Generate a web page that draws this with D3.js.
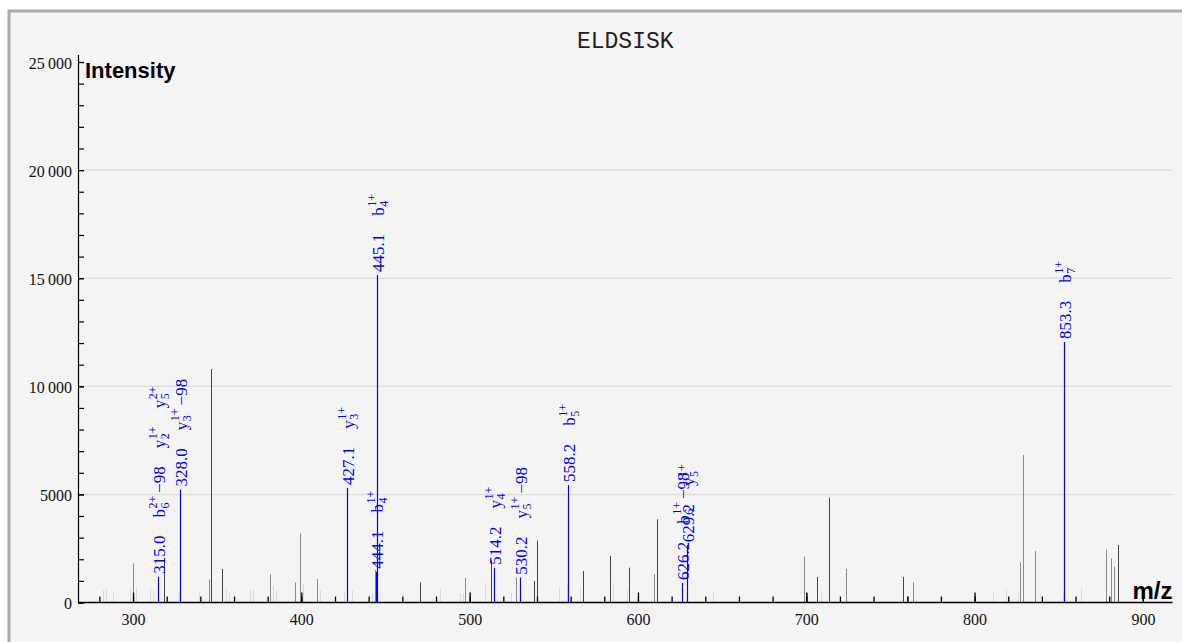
<!DOCTYPE html>
<html>
<head>
<meta charset="utf-8">
<script src="https://cdn.jsdelivr.net/npm/d3@7"></script>
<style>
  html, body { margin: 0; padding: 0; background: #fff; }
  svg { display: block; }
</style>
</head>
<body>
<div id="spectrum"></div>
<script>
// Peptide shown in the title
var title = "ELDSISK";

// Unannotated peaks, grouped by shade: [m/z, intensity]
var darkPeaks = [
  [318.2, 2060], [346.2, 10800], [353.1, 1550], [470.3, 930], [512.5, 1930], [538.4, 990],
  [540.0, 2860], [567.3, 1460], [583.4, 2150], [594.5, 1610], [611.5, 3850], [706.6, 1180],
  [713.7, 4850], [757.6, 1180], [885.0, 2660]
];
var midPeaks = [
  [300.0, 1810], [345.0, 1070], [381.2, 1300], [396.0, 930], [399.2, 3200], [409.1, 1090],
  [443.9, 1500], [497.4, 1130], [527.3, 1160], [609.3, 1320], [698.6, 2120], [700.2, 430],
  [723.6, 1550], [760.2, 300], [763.6, 930], [826.8, 1860], [828.7, 6820], [835.8, 2380],
  [877.8, 2460], [880.8, 2040], [882.8, 1660]
];
var lightPeaks = [
  [282.2, 550], [284.0, 620], [288.0, 430], [298.0, 620], [302.0, 680], [310.0, 650],
  [311.9, 620], [327.3, 430], [339.0, 430], [355.0, 620], [357.0, 430], [369.3, 550],
  [371.3, 620], [383.2, 800], [385.1, 550], [401.2, 860], [411.0, 550], [425.2, 500],
  [430.3, 550], [442.2, 430], [482.2, 620], [494.3, 430], [496.2, 430], [500.0, 550],
  [509.3, 900], [524.4, 430], [553.3, 680], [557.6, 860], [565.5, 650], [585.3, 900],
  [593.3, 620], [644.4, 500], [708.5, 550], [810.7, 430], [818.6, 620], [825.6, 430],
  [852.7, 430], [863.2, 680]
];

// Annotated (matched) peaks
var annMz = [315.0, 328.0, 427.1, 444.1, 445.1, 514.2, 530.2, 558.2, 626.2, 629.2, 853.3];
var annIntensity = [1190, 5230, 5300, 1420, 15150, 1610, 1150, 5430, 900, 2650, 12050];
var annIons = [
  [{ion: "b", pos: "6", charge: "2+", loss: "\u221298"}, {ion: "y", pos: "2", charge: "1+"}, {ion: "y", pos: "5", charge: "2+"}],
  [{ion: "y", pos: "3", charge: "1+", loss: "\u221298"}],
  [{ion: "y", pos: "3", charge: "1+"}],
  [{ion: "b", pos: "4", charge: "1+"}],
  [{ion: "b", pos: "4", charge: "1+"}],
  [{ion: "y", pos: "4", charge: "1+"}],
  [{ion: "y", pos: "5", charge: "1+", loss: "\u221298"}],
  [{ion: "b", pos: "5", charge: "1+"}],
  [{ion: "b", pos: "6", charge: "1+", loss: "\u221298"}],
  [{ion: "y", pos: "5", charge: "1+"}],
  [{ion: "b", pos: "7", charge: "1+"}]
];

// Axis ticks
var xTickLabels = [300, 400, 500, 600, 700, 800, 900];
var yTickValues = [0, 5000, 10000, 15000, 20000, 25000];
var yTickLabels = ["0", "5000", "10\u2009000", "15\u2009000", "20\u2009000", "25\u2009000"];

// Layout
var W = 1182, H = 642;
var plot = {left: 78, right: 1172.5, top: 62, bottom: 602.5};
var serif = "'Liberation Serif', 'Times New Roman', serif";
var blue = "#0000ff";

var svg = d3.select("#spectrum").append("svg")
  .attr("width", W)
  .attr("height", H);

// panel frame
svg.append("rect")
  .attr("x", 9).attr("y", 11)
  .attr("width", 1300).attr("height", 800)
  .attr("fill", "#f4f4f4")
  .attr("stroke", "#ababab")
  .attr("stroke-width", 3);

var x = d3.scaleLinear().domain([267.3, 917.6]).range([plot.left, plot.right]);
var y = d3.scaleLinear().domain([0, 25000]).range([plot.bottom, plot.top]);

function px(v) { return Math.round(x(v)) + 0.5; }

// gridlines
svg.append("g").selectAll("line")
  .data(yTickValues.filter(function(v) { return v > 0 && v < 25000; }))
  .enter().append("line")
    .attr("x1", plot.left).attr("x2", plot.right)
    .attr("y1", function(d) { return y(d); })
    .attr("y2", function(d) { return y(d); })
    .attr("stroke", "#dedede")
    .attr("stroke-width", 1.5);

// title
svg.append("text")
  .attr("x", (plot.left + plot.right) / 2)
  .attr("y", 48)
  .attr("text-anchor", "middle")
  .style("font-family", "'Liberation Mono', 'Courier New', monospace")
  .style("font-size", "23px")
  .attr("fill", "#222")
  .text(title);

// peaks
function drawPeaks(data, colour) {
  svg.append("g").selectAll("line")
    .data(data)
    .enter().append("line")
      .attr("x1", function(d) { return px(d[0]); })
      .attr("x2", function(d) { return px(d[0]); })
      .attr("y1", y(0))
      .attr("y2", function(d) { return y(d[1]); })
      .attr("stroke", colour)
      .attr("stroke-width", 1);
}
drawPeaks(lightPeaks, "#d9d9d9");
drawPeaks(midPeaks, "#8a8a8a");
drawPeaks(darkPeaks, "#444");

// x axis: minor ticks every 20, labelled ticks every 100
svg.append("g")
  .attr("transform", "translate(0," + y(0) + ")")
  .call(d3.axisBottom(x).tickValues(d3.range(280, 901, 20)).tickSizeInner(-6).tickSizeOuter(0).tickFormat(""))
  .call(function(g) { g.select(".domain").remove(); g.selectAll("line").attr("stroke-width", 1.3); });

svg.append("g")
  .attr("transform", "translate(0," + y(0) + ")")
  .call(d3.axisBottom(x).tickValues(xTickLabels).tickSizeInner(-10).tickSizeOuter(0).tickPadding(11))
  .call(function(g) {
    g.select(".domain").remove();
    g.selectAll("line").attr("stroke-width", 1.3);
    g.selectAll("text").style("font-family", serif).style("font-size", "16px").attr("fill", "#111");
  });

svg.append("line")
  .attr("x1", plot.left).attr("x2", plot.right)
  .attr("y1", y(0)).attr("y2", y(0))
  .attr("stroke", "#000").attr("stroke-width", 1.6);

// y axis: ticks pointing into the plot
svg.append("g")
  .attr("transform", "translate(" + plot.left + ",0)")
  .call(d3.axisLeft(y).tickValues(d3.range(0, 25001, 1000)).tickSizeInner(-6).tickSizeOuter(0).tickFormat(""))
  .call(function(g) { g.select(".domain").remove(); g.selectAll("line").attr("stroke-width", 1.2); });

svg.append("g")
  .attr("transform", "translate(" + plot.left + ",0)")
  .call(d3.axisLeft(y).tickValues(yTickValues).tickSizeInner(-6).tickSizeOuter(0).tickPadding(6)
    .tickFormat(function(d, i) { return yTickLabels[i]; }))
  .call(function(g) {
    g.select(".domain").remove();
    g.selectAll("line").attr("stroke-width", 1.2);
    g.selectAll("text").style("font-family", serif).style("font-size", "16px").attr("fill", "#111").attr("dy", "0.38em");
  });

svg.append("line")
  .attr("x1", plot.left + 0.5).attr("x2", plot.left + 0.5)
  .attr("y1", y(0)).attr("y2", plot.top - 7)
  .attr("stroke", "#000").attr("stroke-width", 1.2);

// axis names
svg.append("text")
  .attr("x", 85).attr("y", 78)
  .style("font-family", "'Liberation Sans', Arial, sans-serif")
  .style("font-weight", "bold").style("font-size", "22px")
  .text("Intensity");

svg.append("text")
  .attr("x", plot.right).attr("y", 599)
  .attr("text-anchor", "end")
  .style("font-family", "'Liberation Sans', Arial, sans-serif")
  .style("font-weight", "bold").style("font-size", "24px")
  .text("m/z");

// annotated peaks
var annotations = annMz.map(function(m, i) {
  return {mz: m, intensity: annIntensity[i], ions: annIons[i]};
});

svg.append("g").selectAll("line")
  .data(annotations)
  .enter().append("line")
    .attr("x1", function(d) { return px(d.mz); })
    .attr("x2", function(d) { return px(d.mz); })
    .attr("y1", y(0))
    .attr("y2", function(d) { return y(d.intensity); })
    .attr("stroke", blue)
    .attr("stroke-width", 1.2);

var gap = 18;
svg.append("g").selectAll("g")
  .data(annotations)
  .enter().append("g")
    .attr("transform", function(d) { return "translate(" + px(d.mz) + "," + y(d.intensity) + ") rotate(-90)"; })
    .style("font-family", serif)
    .attr("fill", blue)
    .each(function(d) {
      var g = d3.select(this);
      var cursor = 3;
      var t = g.append("text").attr("x", cursor).attr("y", 6).style("font-size", "17px").text(d.mz.toFixed(1));
      cursor += t.node().getComputedTextLength() + gap;
      d.ions.forEach(function(ion) {
        var base = g.append("text").attr("x", cursor).attr("y", 6).style("font-size", "17px").text(ion.ion);
        var bw = base.node().getComputedTextLength();
        var sup = g.append("text").attr("x", cursor + bw + 0.5).attr("y", -1.5).style("font-size", "12px").text(ion.charge);
        var sub = g.append("text").attr("x", cursor + bw + 0.5).attr("y", 10).style("font-size", "12px").text(ion.pos);
        var w = bw + 0.5 + Math.max(sup.node().getComputedTextLength(), sub.node().getComputedTextLength());
        if (ion.loss) {
          var l = g.append("text").attr("x", cursor + w + 3).attr("y", 6).style("font-size", "17px").text(ion.loss);
          w += 3 + l.node().getComputedTextLength();
        }
        cursor += w + gap;
      });
    });
</script>
</body>
</html>
